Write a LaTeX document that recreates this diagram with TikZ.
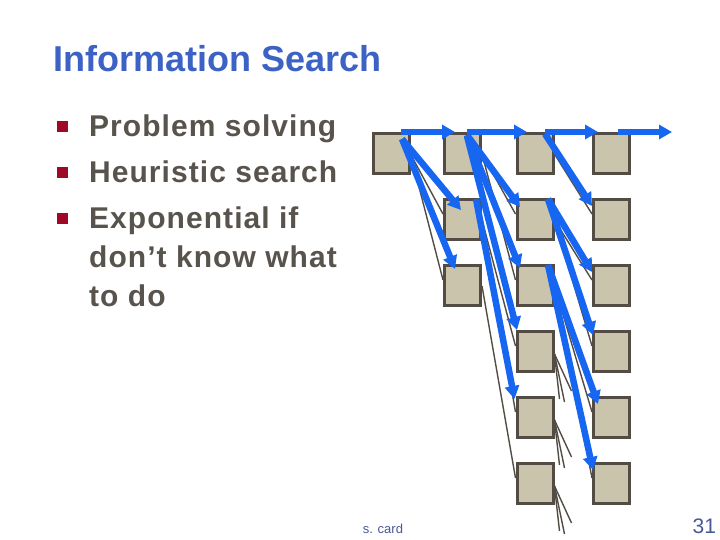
\documentclass[tikz,border=0pt]{standalone}
\usepackage{fontspec}
\setmainfont{Liberation Sans}
\newfontfamily\bulletfont[LetterSpace=3.5]{Liberation Sans}
\usetikzlibrary{arrows.meta,calc,backgrounds}
\definecolor{titleblue}{RGB}{61,98,198}
\definecolor{bodygray}{RGB}{88,83,76}
\definecolor{bulletred}{RGB}{160,8,40}
\definecolor{cardfill}{RGB}{201,196,171}
\definecolor{cardedge}{RGB}{82,76,68}
\definecolor{pathblue}{RGB}{22,102,242}
\definecolor{footblue}{RGB}{72,88,150}
\begin{document}
\begin{tikzpicture}[x=1pt,y=-1pt,
  card/.style={draw=cardedge,line width=3pt,fill=cardfill,minimum width=36pt,minimum height=40pt,inner sep=0pt},
  trail/.style={draw=pathblue,line width=6.5pt,-{Triangle[length=13pt,width=14pt]}},
  branch/.style={draw=cardedge,line width=1.4pt},
  bullet/.style={fill=bulletred,minimum size=11pt,inner sep=0pt},
  item/.style={anchor=base west,inner sep=0pt,text=bodygray,align=left,font=\bulletfont\bfseries\fontsize{30}{39}\selectfont}]
\useasboundingbox (0,0) rectangle (720,540);
\node[anchor=base west,inner sep=0pt,text=titleblue,font=\bfseries\fontsize{36}{43}\selectfont] (title) at (53,72) {Information Search};
\node[bullet] (b1) at (62.5,126.5) {};
\node[item] (t1) at (89,137) {Problem solving};
\node[bullet] (b2) at (62.5,172.5) {};
\node[item] (t2) at (89,183) {Heuristic search};
\node[bullet] (b3) at (62.5,218.5) {};
\node[item] (t3) at (89,306) {Exponential if\\don’t know what\\to do};
\node[card] (A) at (391,153.5) {};
\foreach \r in {1,...,3}
  \node[card] (B\r) at (462.5,87.5+66*\r) {};
\foreach \r in {1,...,6} {
  \node[card] (C\r) at (535,87.5+66*\r) {};
  \node[card] (D\r) at (611.5,87.5+66*\r) {};
}
\coordinate (next) at (672,132);
\begin{scope}[on background layer]
\foreach \p/\q in {A/B2,A/B3,B1/C2,B1/C3,B2/C4,B2/C5,B3/C6,C1/D2,C2/D3,C2/D4,C3/D5,C3/D6}
  \draw[branch] ($(\p.north east)+(0,22)$) -- ($(\q.north west)+(0,16)$);
\foreach \c in {C4,C5,C6}
  \foreach \dx/\dy [count=\i] in {5/45,10/48,17/37} {
    \coordinate (\c s\i) at ($(\c.north east)+(\dx,24+\dy)$);
    \draw[branch] ($(\c.north east)+(0,24)$) -- (\c s\i);
  }
\end{scope}
\draw[trail] ($(A.north east)+(-9.5,0)$) -- ($(B1.north west)+(12,0)$);
\draw[trail] ($(B1.north east)+(-15,0)$) -- ($(C1.north west)+(11.5,0)$);
\draw[trail] ($(C1.north east)+(-9.5,0)$) -- ($(D1.north west)+(6,0)$);
\draw[trail] ($(D1.north east)+(-13,0)$) -- (next);
\draw[trail] ($(A.north east)+(-8.5,7)$) -- ($(B2.north west)+(18,12)$);
\draw[trail] ($(A.north east)+(-8.5,7)$) -- ($(B3.north west)+(12,5)$);
\draw[trail] ($(B1.north east)+(-15,3)$) -- ($(C2.north west)+(4.5,9)$);
\draw[trail] ($(B1.north east)+(-15,3)$) -- ($(C3.north west)+(4.5,4)$);
\draw[trail] ($(B1.north east)+(-15,4)$) -- ($(C4.north west)+(1.5,0)$);
\draw[trail] ($(B2.north east)+(-6,1)$) -- ($(C5.north west)+(-1,3)$);
\draw[trail] ($(C1.north east)+(-9.5,2)$) -- ($(D2.north west)+(0,8)$);
\draw[trail] ($(C2.north east)+(-6.5,1)$) -- ($(D3.north west)+(0,8)$);
\draw[trail] ($(C2.north east)+(-6.5,1)$) -- ($(D4.north west)+(1,5)$);
\draw[trail] ($(C3.north east)+(-6.5,1)$) -- ($(D5.north west)+(6,8)$);
\draw[trail] ($(C3.north east)+(-6.5,1)$) -- ($(D6.north west)+(1,8)$);
\node[anchor=base west,inner sep=0pt,text=footblue,font=\fontsize{13}{15}\selectfont] (author) at (362.6,533) {s. card};
\node[anchor=base west,inner sep=0pt,text=footblue,font=\fontsize{21}{25}\selectfont] (page) at (692.4,533) {31};
\end{tikzpicture}
\end{document}
